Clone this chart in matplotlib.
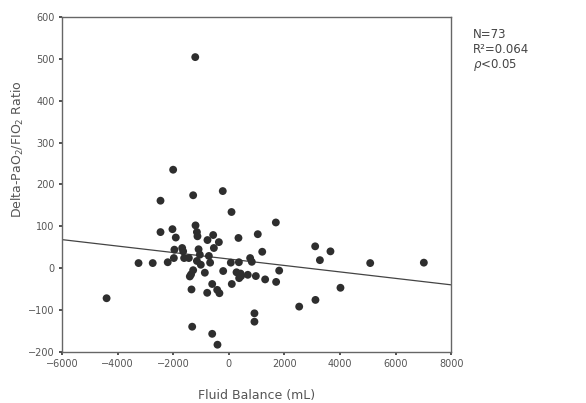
import matplotlib
matplotlib.use("Agg")
import matplotlib.pyplot as plt
import numpy as np

# Fluid balance (mL) and Delta-PaO2/FIO2 ratio
fluid_balance = [
    -4400, -3250, -2740, -2460, -2460, -2200, -2005, -2030, -1980, -1960,
    -1910, -1680, -1645, -1610, -1440, -1405, -1360, -1345, -1320, -1285,
    -1285, -1210, -1200, -1150, -1130, -1150, -1090, -1045, -1010, -865,
    -780, -770, -720, -675, -600, -600, -565, -540, -420, -410,
    -360, -340, -220, -205, 70, 95, 105, 275, 345, 360,
    370, 420, 440, 680, 765, 825, 970, 920, 920, 1040,
    1200, 1305, 1690, 1700, 1810, 2530, 3105, 3115, 3275, 3655,
    4015, 5085, 7015,
]
delta_ratio = [
    -72, 12, 12, 161, 86, 14, 235, 93, 24, 44,
    73, 48, 40, 24, 24, -20, -15, -51, -140, 174,
    -5, 504, 102, 86, 76, 17, 45, 32, 8, -11,
    -59, 67, 29, 13, -38, -157, 79, 48, -52, -183,
    62, -60, 184, -7, 13, 134, -38, -10, 72, 14,
    -24, -13, -19, -16, 24, 15, -19, -108, -128, 81,
    39, -27, 109, -33, -6, -92, 52, -76, 19, 40,
    -47, 12, 13,
]
fit_x = [-6000, 8000]
fit_y = [68, -40]

x_ticks = [-6000, -4000, -2000, 0, 2000, 4000, 6000, 8000]
y_ticks = [-200, -100, 0, 100, 200, 300, 400, 500, 600]

fig = plt.figure(figsize=(5.86, 4.03), dpi=100)
ax = fig.add_axes([0.106, 0.127, 0.664, 0.831])

ax.scatter(fluid_balance, delta_ratio, s=32, color="#2e2e2e", edgecolors="none", zorder=3)
ax.plot(fit_x, fit_y, color="#444444", lw=0.9)

ax.set_xlim(-6000, 8000)
ax.set_ylim(-200, 600)
ax.set_xticks(x_ticks)
ax.set_yticks(y_ticks)
ax.tick_params(axis="both", labelsize=7, colors="#333333", labelcolor="#555555",
               length=2.5, width=1.2, direction="out", pad=3)

for sp in ax.spines.values():
    sp.set_color("#666666")
    sp.set_linewidth(1.0)

ax.set_xlabel("Fluid Balance (mL)", fontsize=9, color="#555555", labelpad=14)
fig.text(0.03, 0.63, "Delta-PaO$_2$/FIO$_2$ Ratio", rotation=90, fontsize=9,
         color="#555555", ha="center", va="center")

fig.text(0.807, 0.915, "N=73", fontsize=8.5, color="#444444", va="center")
fig.text(0.807, 0.877, "R²=0.064", fontsize=8.5, color="#444444", va="center")
fig.text(0.807, 0.838, r"$\rho$<0.05", fontsize=8.5, color="#444444", va="center")

fig.savefig("out.png", dpi=100)
